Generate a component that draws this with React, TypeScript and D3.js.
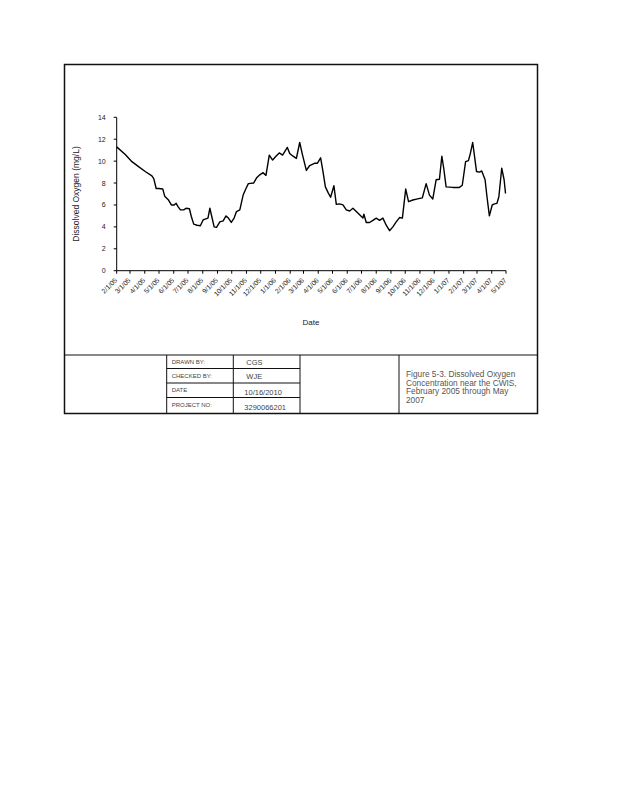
import React from 'react';
import * as d3 from 'd3';

// dissolved oxygen readings (mg/L)
const dates = [
  '2/1/05', '2/19/05', '3/5/05', '3/19/05', '4/2/05', '4/16/05', '4/20/05', '4/25/05', '4/30/05', '5/9/05',
  '5/13/05', '5/21/05', '5/27/05', '6/2/05', '6/6/05', '6/10/05', '6/15/05', '6/22/05', '6/27/05', '7/4/05',
  '7/8/05', '7/13/05', '7/20/05', '7/27/05', '8/2/05', '8/6/05', '8/12/05', '8/16/05', '8/25/05', '8/30/05',
  '9/6/05', '9/13/05', '9/19/05', '9/24/05', '9/30/05', '10/6/05', '10/11/05', '10/18/05', '10/25/05', '10/31/05',
  '11/5/05', '11/16/05', '11/22/05', '11/29/05', '12/6/05', '12/12/05', '12/19/05', '12/26/05', '1/2/06', '1/9/06',
  '1/16/06', '1/26/06', '1/31/06', '2/7/06', '2/14/06', '2/21/06', '2/27/06', '3/7/06', '3/14/06', '3/24/06',
  '3/30/06', '4/6/06', '4/11/06', '4/16/06', '4/22/06', '4/27/06', '5/4/06', '5/9/06', '5/16/06', '5/23/06',
  '5/30/06', '6/6/06', '6/13/06', '6/20/06', '6/27/06', '7/4/06', '7/6/06', '7/11/06', '7/18/06', '7/25/06',
  '8/1/06', '8/8/06', '8/15/06', '8/22/06', '8/29/06', '9/5/06', '9/12/06', '9/19/06', '9/25/06', '10/2/06',
  '10/8/06', '10/17/06', '10/27/06', '11/6/06', '11/14/06', '11/21/06', '11/28/06', '12/5/06', '12/12/06', '12/17/06',
  '12/21/06', '12/26/06', '1/9/07', '1/23/07', '1/29/07', '2/5/07', '2/11/07', '2/15/07', '2/20/07', '2/23/07',
  '2/28/07', '3/6/07', '3/11/07', '3/18/07', '3/22/07', '3/27/07', '4/2/07', '4/7/07', '4/12/07', '4/16/07',
  '4/22/07', '4/27/07', '4/30/07',
];
const oxygen = [
  11.3, 10.6, 9.95, 9.5, 9.05, 8.65, 8.4, 7.5, 7.5, 7.45,
  6.8, 6.45, 6.0, 6.0, 6.15, 5.85, 5.55, 5.55, 5.7, 5.65,
  4.95, 4.25, 4.15, 4.1, 4.65, 4.7, 4.8, 5.7, 4.0, 3.95,
  4.45, 4.55, 5.0, 4.8, 4.4, 4.8, 5.4, 5.55, 6.9, 7.5,
  7.95, 8.0, 8.45, 8.75, 8.95, 8.7, 10.55, 10.1, 10.45, 10.75,
  10.55, 11.25, 10.7, 10.45, 10.25, 11.7, 10.55, 9.15, 9.6, 9.8,
  9.8, 10.3, 9.05, 7.65, 7.1, 6.7, 7.75, 6.05, 6.1, 6.0,
  5.55, 5.45, 5.7, 5.4, 5.1, 4.8, 5.15, 4.4, 4.4, 4.6,
  4.8, 4.6, 4.8, 4.15, 3.65, 4.0, 4.45, 4.85, 4.8, 7.45,
  6.3, 6.45, 6.55, 6.65, 7.95, 6.9, 6.55, 8.3, 8.35, 10.45,
  9.35, 7.65, 7.6, 7.6, 7.8, 9.95, 10.05, 10.7, 11.7, 10.7,
  9.05, 9.0, 9.1, 8.3, 6.75, 5.0, 6.0, 6.1, 6.15, 6.75,
  9.35, 8.3, 7.05,
];
const yTicks = [0, 2, 4, 6, 8, 10, 12, 14];
const axisStart = '2/1/05';
const axisEnd = '5/1/07';

const tableRows = [
  ['DRAWN BY:', 'CGS'],
  ['CHECKED BY:', 'WJE'],
  ['DATE', '10/16/2010'],
  ['PROJECT NO:', '3290066201'],
];
const captionLines = [
  'Figure 5-3.  Dissolved Oxygen',
  'Concentration near the CWIS,',
  'February 2005 through May',
  '2007',
];

const parse = d3.timeParse('%m/%d/%y');
const fmt = d3.timeFormat('%-m/%-d/%y');
const font = '"Liberation Sans", Arial, sans-serif';

export default function App() {
  const start = parse(axisStart)!;
  const end = parse(axisEnd)!;
  const x = d3.scaleTime().domain([start, end]).range([116.7, 506]);
  const y = d3.scaleLinear().domain([0, 14]).range([270.7, 117.3]);
  const points = dates.map((d, i) => ({ date: parse(d)!, v: oxygen[i] }));
  const line = d3
    .line<{ date: Date; v: number }>()
    .x((d) => x(d.date))
    .y((d) => y(d.v));
  const months = d3.timeMonth.range(start, d3.timeDay.offset(end, 1));

  const L = 64.5, R = 537.5, T = 64.5, B = 413.5;
  const tableTop = 355;
  const rowYs = [355, 368.5, 383, 397.5, 413.5];
  const cols = [166.7, 233.3, 300, 399];

  return (
    <svg
      width={618}
      height={800}
      style={{ position: 'absolute', left: 0, top: 0, background: '#fff' }}
      fontFamily={font}
    >
      <rect x={0} y={0} width={618} height={800} fill="#fff" />
      {/* frame */}
      <rect x={L} y={T} width={R - L} height={B - T} fill="none" stroke="#111" strokeWidth={1.5} />

      {/* y axis */}
      <line x1={x(start)} x2={x(start)} y1={y(14)} y2={y(0)} stroke="#000" strokeWidth={1} />
      {yTicks.map((t) => (
        <g key={t}>
          <line x1={x(start) - 3} x2={x(start)} y1={y(t)} y2={y(t)} stroke="#000" strokeWidth={1} />
          <text x={x(start) - 11} y={y(t) + 2.5} fontSize={7} textAnchor="end" fill="#222">
            {t}
          </text>
        </g>
      ))}
      {/* x axis */}
      <line x1={x(start)} x2={x(end)} y1={y(0)} y2={y(0)} stroke="#000" strokeWidth={1} />
      {months.map((m) => (
        <g key={m.getTime()}>
          <line x1={x(m)} x2={x(m)} y1={y(0)} y2={y(0) + 3} stroke="#000" strokeWidth={1} />
          <text
            fontSize={6.8}
            textAnchor="end"
            fill="#222"
            transform={`translate(${x(m) + 1},${y(0) + 10}) rotate(-45)`}
          >
            {fmt(m)}
          </text>
        </g>
      ))}

      {/* data line */}
      <path d={line(points) ?? ''} fill="none" stroke="#000" strokeWidth={1.4} strokeLinejoin="round" />

      {/* axis titles */}
      <text
        fontSize={8.5}
        textAnchor="middle"
        fill="#222"
        transform={`translate(79,${(y(0) + y(14)) / 2}) rotate(-90)`}
      >
        Dissolved Oxygen (mg/L)
      </text>
      <text x={311} y={325} fontSize={8} textAnchor="middle" fill="#222">
        Date
      </text>

      {/* title block */}
      <line x1={L} x2={R} y1={tableTop} y2={tableTop} stroke="#111" strokeWidth={1.2} />
      {cols.map((c) => (
        <line key={c} x1={c} x2={c} y1={tableTop} y2={B} stroke="#111" strokeWidth={1} />
      ))}
      {rowYs.slice(1, 4).map((ry) => (
        <line key={ry} x1={cols[0]} x2={cols[2]} y1={ry} y2={ry} stroke="#111" strokeWidth={1} />
      ))}
      {tableRows.map(([label, value], i) => (
        <g key={label}>
          <text x={cols[0] + 5} y={rowYs[i] + 9} fontSize={6} fill="#444">
            {label}
          </text>
          <text x={cols[1] + (i >= 2 ? 11 : 13)} y={rowYs[i] + (i >= 2 ? 12 : 10)} fontSize={7.5} fill="#444">
            {value}
          </text>
        </g>
      ))}
      {captionLines.map((c, i) => (
        <text key={i} x={406} y={377 + i * 8.5} fontSize={8.3} fill="#555">
          {c}
        </text>
      ))}
    </svg>
  );
}
